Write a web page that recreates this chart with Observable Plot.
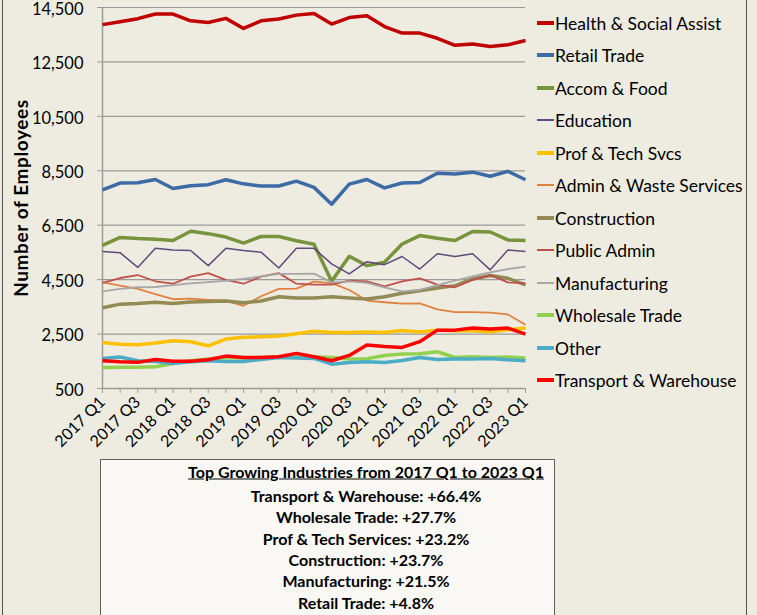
<!DOCTYPE html>
<html>
<head>
<meta charset="utf-8">
<script src="https://cdn.jsdelivr.net/npm/d3@7"></script>
<script src="https://cdn.jsdelivr.net/npm/@observablehq/plot@0.6"></script>
<style>
  html, body { margin: 0; padding: 0; }
  body { width: 757px; height: 615px; overflow: hidden; background: #eeece1; font-family: Lato, "Open Sans", sans-serif; }
  #wrap { position: relative; width: 757px; height: 615px; background: #eeece1; }
  #chart { position: absolute; left: 0; top: 0; }
  .frameL { position: absolute; left: 2px; top: 0; width: 0; height: 615px; border-left: 1.5px solid #555; }
  .frameR { position: absolute; left: 746px; top: 0; width: 0; height: 615px; border-left: 1.5px solid #555; }
  #ytitle { position: absolute; left: 20px; top: 198px; transform: translate(-50%, -50%) rotate(-90deg); font-weight: bold; font-size: 19px; letter-spacing: 0.6px; white-space: nowrap; color: #000; }
  #legend { position: absolute; left: 537px; top: 0; }
  .li { position: absolute; left: 0; height: 20px; white-space: nowrap; font-size: 17.5px; color: #000; }
  .sw { position: absolute; left: 0; width: 17px; }
  .lt { position: absolute; left: 18px; top: 50%; transform: translateY(-50%); }
  #box { position: absolute; left: 100px; top: 459px; width: 455px; height: 170px; background: #f9f8f4; border: 1.5px solid #5e5e5e; box-sizing: border-box; }
  .bl { position: absolute; left: 265px; transform: translate(-50%, -50%); white-space: nowrap; font-weight: bold; font-size: 16px; color: #000; }
</style>
</head>
<body>
<div id="wrap">
  <div id="chart"></div>
  <div id="ytitle">Number of Employees</div>
  <div id="legend"></div>
  <div id="box"></div>
  <div class="frameL"></div>
  <div class="frameR"></div>
</div>
<script>
const quarters = ["2017 Q1","2017 Q2","2017 Q3","2017 Q4","2018 Q1","2018 Q2","2018 Q3","2018 Q4","2019 Q1","2019 Q2","2019 Q3","2019 Q4","2020 Q1","2020 Q2","2020 Q3","2020 Q4","2021 Q1","2021 Q2","2021 Q3","2021 Q4","2022 Q1","2022 Q2","2022 Q3","2022 Q4","2023 Q1"];

const healthSocial = [13870,13980,14090,14260,14260,14010,13950,14100,13730,14010,14080,14220,14280,13890,14130,14200,13800,13560,13560,13370,13110,13160,13070,13130,13290];
const retailTrade = [7800,8050,8060,8180,7850,7950,7990,8170,8020,7940,7940,8120,7890,7270,8010,8180,7870,8050,8070,8410,8380,8450,8300,8480,8170];
const accomFood = [5760,6050,6010,5985,5940,6280,6190,6065,5845,6085,6085,5930,5800,4440,5360,5015,5140,5810,6120,6020,5940,6270,6250,5960,5940];
const education = [5530,5490,4950,5650,5590,5570,5015,5650,5570,5510,4930,5650,5650,5080,4710,5160,5050,5350,4890,5450,5350,5450,4860,5590,5530];
const profTech = [2190,2130,2110,2170,2255,2220,2070,2315,2380,2400,2430,2510,2600,2560,2560,2575,2560,2635,2575,2645,2620,2620,2585,2660,2720];
const adminWaste = [4400,4280,4160,3970,3780,3800,3760,3730,3540,3890,4160,4170,4430,4370,4120,3730,3670,3620,3630,3410,3310,3310,3285,3220,2840];
const construction = [3470,3600,3620,3670,3620,3680,3700,3715,3650,3715,3870,3825,3825,3870,3825,3790,3870,4000,4095,4190,4280,4525,4650,4550,4310];
const publicAdmin = [4380,4560,4670,4440,4350,4610,4740,4490,4350,4610,4740,4350,4320,4320,4460,4440,4255,4440,4550,4320,4220,4490,4670,4400,4365];
const manufacturing = [4070,4160,4220,4230,4300,4365,4410,4460,4525,4620,4710,4710,4720,4400,4440,4380,4220,4070,4120,4300,4460,4620,4770,4890,4980];
const wholesaleTrade = [1270,1285,1285,1295,1420,1520,1580,1640,1620,1640,1665,1690,1665,1640,1580,1590,1715,1765,1775,1850,1640,1665,1640,1655,1620];
const other = [1605,1655,1520,1495,1420,1480,1520,1495,1495,1565,1640,1620,1605,1395,1455,1480,1455,1530,1640,1565,1580,1580,1605,1555,1520];
const transportWarehouse = [1520,1480,1460,1565,1505,1505,1555,1690,1640,1640,1665,1790,1665,1520,1715,2095,2045,2010,2220,2645,2645,2720,2685,2720,2500];

const seriesNames = ["Health & Social Assist","Retail Trade","Accom & Food","Education","Prof & Tech Svcs","Admin & Waste Services","Construction","Public Admin","Manufacturing","Wholesale Trade","Other","Transport & Warehouse"];
const seriesValues = [healthSocial, retailTrade, accomFood, education, profTech, adminWaste, construction, publicAdmin, manufacturing, wholesaleTrade, other, transportWarehouse];
const seriesColors = ["#c00000","#3d6ba6","#77933c","#604a7b","#ffc000","#e0823f","#948a54","#c0504d","#a6a6a6","#92d050","#4bacc6","#ff0000"];
const seriesWidths = [3.5,3.5,3.5,1.5,3.5,1.8,3.5,1.8,1.8,3.5,3.5,3.5];

const yTicks = [500,2500,4500,6500,8500,10500,12500,14500];

const boxTitle = "Top Growing Industries from 2017 Q1 to 2023 Q1";
const boxLines = ["Transport & Warehouse: +66.4%","Wholesale Trade: +27.7%","Prof & Tech Services: +23.2%","Construction: +23.7%","Manufacturing: +21.5%","Retail Trade: +4.8%"];

const lineMarks = seriesNames.map((name, s) =>
  Plot.line(seriesValues[s].map((v, i) => ({i, v})), {
    x: "i", y: "v", stroke: seriesColors[s], strokeWidth: seriesWidths[s], strokeLinejoin: "round", strokeLinecap: "butt"
  })
);

const chart = Plot.plot({
  width: 535,
  height: 455,
  marginLeft: 102,
  marginRight: 10,
  marginTop: 7,
  marginBottom: 67,
  style: { background: "transparent", fontFamily: "Lato, sans-serif", fontSize: "15px", color: "#000", overflow: "visible" },
  x: { domain: [0, quarters.length - 1] },
  y: { domain: [500, 14500] },
  marks: [
    Plot.gridY(yTicks, { stroke: "#9a9a9a", strokeOpacity: 1, strokeWidth: 1.2 }),
    Plot.ruleX([0], { stroke: "#9a9a9a", strokeWidth: 1.5 }),
    Plot.ruleY([500], { stroke: "#9a9a9a", strokeWidth: 1.5 }),
    Plot.axisY(yTicks, { tickSize: 5, stroke: "#9a9a9a", tickFormat: () => "", label: null }),
    Plot.axisY(yTicks, { tickSize: 0, fill: "#000", tickPadding: 19, tickFormat: d3.format(","), fontSize: 16.5, dy: 2, label: null }),
    Plot.axisX(d3.range(quarters.length), { tickSize: 5, stroke: "#9a9a9a", fill: "#000", tickRotate: -45, tickPadding: 6,
      tickFormat: i => (i % 2 === 0 ? quarters[i] : ""), fontSize: 16, label: null }),
    ...lineMarks
  ]
});
document.getElementById("chart").appendChild(chart);

const legendCenters = [23,55,88,120,153,185,218,250,283,315,348,380];
const legend = document.getElementById("legend");
seriesNames.forEach((name, s) => {
  const li = document.createElement("div");
  li.className = "li";
  li.style.top = (legendCenters[s] - 10) + "px";
  const sw = document.createElement("div");
  sw.className = "sw";
  const h = seriesWidths[s] > 2 ? 3.5 : 2;
  sw.style.height = h + "px";
  sw.style.top = (10 - h / 2) + "px";
  sw.style.background = seriesColors[s];
  const lt = document.createElement("div");
  lt.className = "lt";
  lt.textContent = name;
  li.appendChild(sw); li.appendChild(lt);
  legend.appendChild(li);
});

const box = document.getElementById("box");
const tl = document.createElement("div");
tl.className = "bl";
tl.style.top = "11px";
tl.style.textDecoration = "underline";
tl.textContent = boxTitle;
box.appendChild(tl);
boxLines.forEach((t, k) => {
  const d = document.createElement("div");
  d.className = "bl";
  d.style.top = (35 + k * 21.3) + "px";
  d.textContent = t;
  box.appendChild(d);
});
</script>
</body>
</html>
